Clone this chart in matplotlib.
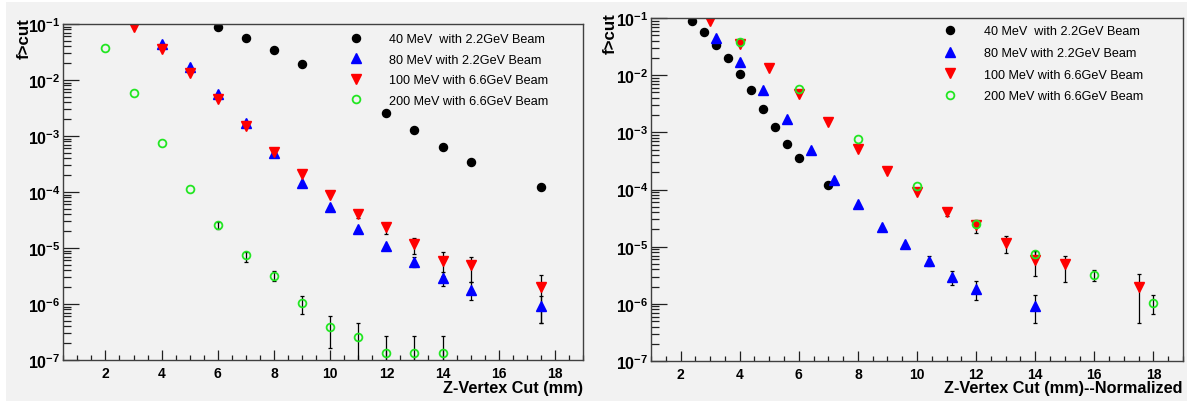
import matplotlib
matplotlib.use("Agg")
import matplotlib.pyplot as plt
import numpy as np
from matplotlib.patches import Rectangle
from matplotlib.ticker import FixedLocator, FuncFormatter, NullFormatter

plt.rcParams["font.family"] = ["Liberation Sans", "DejaVu Sans"]
plt.rcParams["mathtext.fontset"] = "custom"
plt.rcParams["mathtext.rm"] = "Liberation Sans"
plt.rcParams["mathtext.bf"] = "Liberation Sans:bold"

# z-vertex cut (mm) and fraction passing the cut
z_40 = [6, 7, 8, 9, 10, 11, 12, 13, 14, 15, 17.5]
f_40 = [0.0897, 0.0569, 0.0337, 0.0197, 0.0105, 0.00543, 0.0026, 0.00126,
        0.00063, 0.00035, 0.000122]
lo_40 = list(f_40)
hi_40 = list(f_40)

z_80 = [4, 5, 6, 7, 8, 9, 10, 11, 12, 13, 14, 15, 17.5]
f_80 = [0.044, 0.0168, 0.0056, 0.0017, 0.0005, 0.000145, 5.5e-5, 2.18e-5,
        1.1e-5, 5.7e-6, 2.9e-6, 1.8e-6, 9.1e-7]
lo_80 = [0.044, 0.0168, 0.0056, 0.0017, 0.0005, 0.000145, 5.5e-5, 2.18e-5,
         1.1e-5, 4.5e-6, 2.1e-6, 1.19e-6, 4.6e-7]
hi_80 = [0.044, 0.0168, 0.0056, 0.0017, 0.0005, 0.000145, 5.5e-5, 2.18e-5,
         1.1e-5, 6.9e-6, 3.8e-6, 2.48e-6, 1.4e-6]

z_100 = [3, 4, 5, 6, 7, 8, 9, 10, 11, 12, 13, 14, 15, 17.5]
f_100 = [0.087, 0.0355, 0.0133, 0.0046, 0.00152, 0.00051, 0.00021, 8.9e-5,
         4.1e-5, 2.4e-5, 1.16e-5, 5.9e-6, 5.0e-6, 2.0e-6]
lo_100 = [0.087, 0.0355, 0.0133, 0.0046, 0.00152, 0.00051, 0.00021, 8.9e-5,
          3.4e-5, 1.76e-5, 7.9e-6, 3.1e-6, 2.45e-6, 4.6e-7]
hi_100 = [0.087, 0.0355, 0.0133, 0.0046, 0.00152, 0.00051, 0.00021, 8.9e-5,
          4.8e-5, 2.75e-5, 1.52e-5, 8.4e-6, 7.0e-6, 3.3e-6]

z_200 = [2, 3, 4, 5, 6, 7, 8, 9, 10, 11, 12, 13, 14]
f_200 = [0.038, 0.0058, 0.00076, 0.000113, 2.54e-5, 7.5e-6, 3.2e-6, 1.04e-6,
         3.9e-7, 2.6e-7, 1.32e-7, 1.32e-7, 1.32e-7]
lo_200 = [0.038, 0.0058, 0.00076, 0.000113, 2.2e-5, 5.7e-6, 2.55e-6, 6.6e-7,
          1.62e-7, 5e-8, 5e-8, 5e-8, 5e-8]
hi_200 = [0.038, 0.0058, 0.00076, 0.000113, 2.9e-5, 8.5e-6, 3.95e-6, 1.4e-6,
          6.2e-7, 4.5e-7, 2.65e-7, 2.65e-7, 2.65e-7]

labels = ["40 MeV  with 2.2GeV Beam", "80 MeV with 2.2GeV Beam",
          "100 MeV with 6.6GeV Beam", "200 MeV with 6.6GeV Beam"]
energies = [40, 80, 100, 200]  # MeV, normalized cut = z * E / 100 MeV

x_major = [2, 4, 6, 8, 10, 12, 14, 16, 18]
y_decades = [1e-7, 1e-6, 1e-5, 1e-4, 1e-3, 1e-2, 1e-1]

BG = "#f2f2f2"
W, H = 1187, 402

series = [
    (z_40, f_40, lo_40, hi_40, dict(marker="o", ms=5.8, mfc="black", mec="black")),
    (z_80, f_80, lo_80, hi_80, dict(marker="^", ms=6.5, mfc="#0000ff", mec="#0000ff")),
    (z_100, f_100, lo_100, hi_100, dict(marker="v", ms=6.5, mfc="#ff0000", mec="#ff0000")),
    (z_200, f_200, lo_200, hi_200, dict(marker="o", ms=5.6, mfc="none", mec="#22e622", mew=1.3)),
]


def draw_panel(ax, normalized, xlim, leg_top, leg_spacing):
    for (z, f, lo, hi, style), label, energy in zip(series, labels, energies):
        x = np.array(z, dtype=float)
        if normalized:
            x = x * energy / 100.0
        f = np.array(f)
        lo = np.array(lo)
        hi = np.array(hi)
        has_err = (hi > f) | (lo < f)
        if has_err.any():
            ax.errorbar(x[has_err], f[has_err],
                        yerr=[f[has_err] - lo[has_err], hi[has_err] - f[has_err]],
                        fmt="none", ecolor="black", elinewidth=0.9,
                        capsize=1.5, capthick=0.9, zorder=2)
        ax.plot(x, f, linestyle="none", label=label, zorder=3, **style)

    ax.set_yscale("log")
    ax.set_ylim(1e-7, 1e-1)
    ax.set_xlim(*xlim)
    ax.set_facecolor(BG)

    minors_x = [v for v in np.arange(0.5, 19.01, 0.5) if xlim[0] <= v <= xlim[1]]
    ax.xaxis.set_major_locator(FixedLocator(x_major))
    ax.xaxis.set_minor_locator(FixedLocator(minors_x))
    ax.yaxis.set_major_locator(FixedLocator(y_decades))
    minors_y = [m * d for d in y_decades[:-1] for m in range(2, 10)]
    ax.yaxis.set_minor_locator(FixedLocator(minors_y))
    ax.yaxis.set_minor_formatter(NullFormatter())
    ax.xaxis.set_minor_formatter(NullFormatter())
    ax.yaxis.set_major_formatter(
        FuncFormatter(lambda v, p: r"$\mathbf{10^{%d}}$" % round(np.log10(v))))

    ax.tick_params(which="both", direction="in", top=False, right=False,
                   color="#202020", width=0.9)
    ax.tick_params(axis="y", which="major", length=11.5, pad=2, labelsize=11.5)
    ax.tick_params(axis="y", which="minor", length=5.8)
    ax.tick_params(axis="x", which="major", length=7, pad=4, labelsize=10)
    ax.tick_params(axis="x", which="minor", length=3.5)
    for lab in ax.get_xticklabels():
        lab.set_fontweight("bold")

    for sp in ax.spines.values():
        sp.set_color("#404040")
        sp.set_linewidth(1.0)
        sp.set_zorder(6)

    ax.add_patch(Rectangle((0.5, 0.75), 0.5, 0.25, transform=ax.transAxes,
                           facecolor=BG, edgecolor="none", zorder=4))
    leg = ax.legend(loc="upper left", bbox_to_anchor=(0.551, leg_top),
                    frameon=False, fontsize=9.1, numpoints=1,
                    handlelength=1.0, handletextpad=2.15, labelspacing=leg_spacing,
                    borderpad=0, borderaxespad=0)
    leg.set_zorder(5)


fig = plt.figure(figsize=(W / 100, H / 100), dpi=100, facecolor=BG)
fig.patches.append(Rectangle((0, 1 - 3 / H), 1, 3 / H, transform=fig.transFigure,
                             facecolor="white", edgecolor="none"))
fig.patches.append(Rectangle((0, 0), 6 / W, 1, transform=fig.transFigure,
                             facecolor="white", edgecolor="none"))

ax1 = fig.add_axes([63.3 / W, 1 - 361 / H, 519.7 / W, 336 / H])
draw_panel(ax1, False, (0.5, 19), 0.973, 0.68)
ax2 = fig.add_axes([651 / W, 1 - 362 / H, 532 / W, 343 / H])
draw_panel(ax2, True, (1, 19), 0.979, 0.77)

fig.text(24 / W, 1 - 18 / H, "f>cut", rotation=90, ha="center", va="top",
         fontsize=12.2, fontweight="bold")
fig.text(610 / W, 1 - 13 / H, "f>cut", rotation=90, ha="center", va="top",
         fontsize=12.2, fontweight="bold")
fig.text(583 / W, 1 - 389 / H, "Z-Vertex Cut (mm)", ha="right", va="center",
         fontsize=11.7, fontweight="bold")
fig.text(1182 / W, 1 - 389 / H, "Z-Vertex Cut (mm)--Normalized", ha="right",
         va="center", fontsize=11.7, fontweight="bold")

fig.savefig("out.png", dpi=100, facecolor=fig.get_facecolor())
